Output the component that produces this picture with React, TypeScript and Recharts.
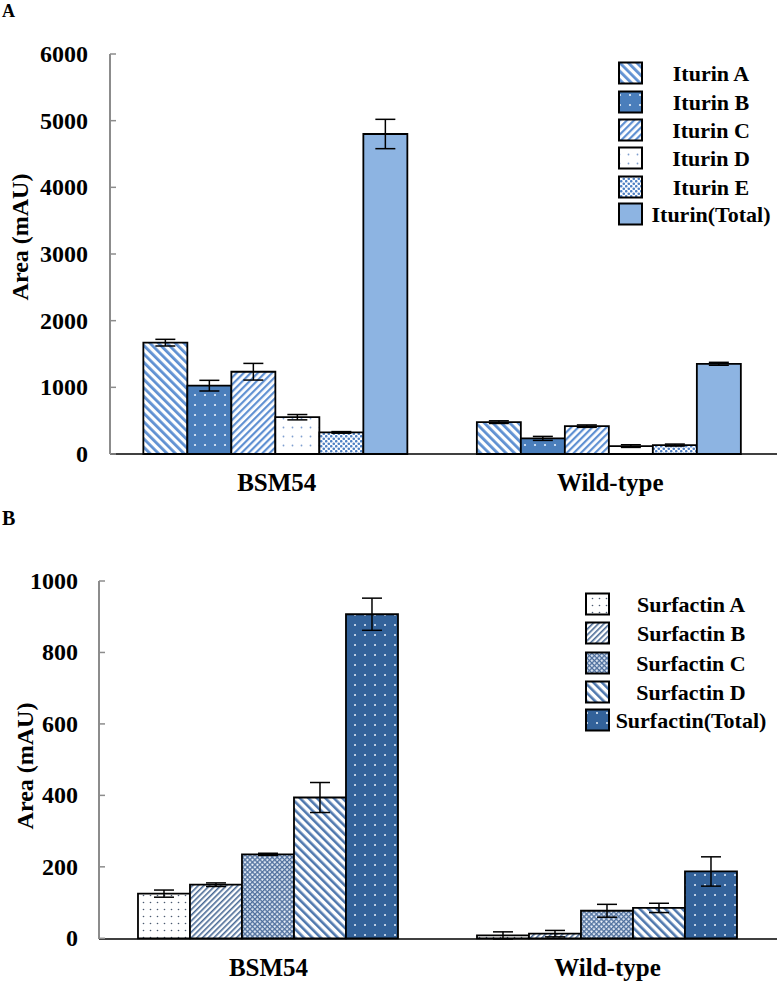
import React from 'react';
import { BarChart, Bar, XAxis, YAxis, ErrorBar, Legend } from 'recharts';

const categories = ['BSM54', 'Wild-type'];

// Panel A: Iturin
const iturinNames = ['Iturin A', 'Iturin B', 'Iturin C', 'Iturin D', 'Iturin E', 'Iturin(Total)'];
const iturinA = [1670, 478];
const iturinB = [1025, 234];
const iturinC = [1234, 418];
const iturinD = [552, 119];
const iturinE = [324, 134];
const iturinTotal = [4800, 1353];
const iturinAErr = [50, 20];
const iturinBErr = [80, 30];
const iturinCErr = [125, 18];
const iturinDErr = [40, 20];
const iturinEErr = [12, 15];
const iturinTotalErr = [220, 22];
const iturinTicks = [0, 1000, 2000, 3000, 4000, 5000, 6000];

// Panel B: Surfactin
const surfactinNames = ['Surfactin A', 'Surfactin B', 'Surfactin C', 'Surfactin D', 'Surfactin(Total)'];
const surfactinA = [125, 8];
const surfactinB = [150, 13];
const surfactinC = [235, 77];
const surfactinD = [394, 85];
const surfactinTotal = [907, 187];
const surfactinAErr = [10, 10];
const surfactinBErr = [5, 9];
const surfactinCErr = [3, 18];
const surfactinDErr = [42, 13];
const surfactinTotalErr = [45, 41];
const surfactinTicks = [0, 200, 400, 600, 800, 1000];

const iturinValues = [iturinA, iturinB, iturinC, iturinD, iturinE, iturinTotal];
const iturinErrors = [iturinAErr, iturinBErr, iturinCErr, iturinDErr, iturinEErr, iturinTotalErr];
const surfactinValues = [surfactinA, surfactinB, surfactinC, surfactinD, surfactinTotal];
const surfactinErrors = [surfactinAErr, surfactinBErr, surfactinCErr, surfactinDErr, surfactinTotalErr];

const buildRows = (vals: number[][], errs: number[][]) =>
  categories.map((name, i) => {
    const row: Record<string, any> = { name };
    vals.forEach((v, k) => {
      row['v' + k] = v[i];
      row['e' + k] = errs[k][i];
    });
    return row;
  });

const iturinData = buildRows(iturinValues, iturinErrors);
const surfactinData = buildRows(surfactinValues, surfactinErrors);

const iturinFills = ['itA', 'itB', 'itC', 'itD', 'itE', 'itT'];
const surfactinFills = ['sfA', 'sfB', 'sfC', 'sfD', 'sfT'];

const FONT = "'Liberation Serif', 'Times New Roman', serif";

const Patterns = () => (
  <svg width={0} height={0} style={{ position: 'absolute' }}>
    <defs>
      <pattern id="itA" width="6" height="6" patternUnits="userSpaceOnUse" patternTransform="rotate(-45)">
        <rect width="6" height="6" fill="#fff" />
        <rect width="2.8" height="6" fill="#5f90d2" />
      </pattern>
      <pattern id="itB" width="10" height="10" patternUnits="userSpaceOnUse">
        <rect width="10" height="10" fill="#4a7ebb" />
        <circle cx="5" cy="5" r="1.1" fill="#e8f0fb" />
      </pattern>
      <pattern id="itC" width="5" height="5" patternUnits="userSpaceOnUse" patternTransform="rotate(45)">
        <rect width="5" height="5" fill="#fff" />
        <rect width="2.2" height="5" fill="#5f90d2" />
      </pattern>
      <pattern id="itD" width="9" height="9" patternUnits="userSpaceOnUse">
        <rect width="9" height="9" fill="#fff" />
        <circle cx="4.5" cy="4.5" r="0.9" fill="#7f9fcf" />
      </pattern>
      <pattern id="itE" width="5" height="5" patternUnits="userSpaceOnUse">
        <rect width="5" height="5" fill="#fff" />
        <circle cx="1.25" cy="1.25" r="1.3" fill="#4f81c4" />
        <circle cx="3.75" cy="3.75" r="1.3" fill="#4f81c4" />
      </pattern>
      <pattern id="itT" width="10" height="10" patternUnits="userSpaceOnUse">
        <rect width="10" height="10" fill="#8db4e2" />
      </pattern>
      <pattern id="sfA" width="7" height="7" patternUnits="userSpaceOnUse">
        <rect width="7" height="7" fill="#fff" />
        <circle cx="3.5" cy="3.5" r="0.8" fill="#4a5a70" />
      </pattern>
      <pattern id="sfB" width="4" height="4" patternUnits="userSpaceOnUse" patternTransform="rotate(45)">
        <rect width="4" height="4" fill="#fff" />
        <rect width="1.6" height="4" fill="#4a6a96" />
      </pattern>
      <pattern id="sfC" width="3.5" height="3.5" patternUnits="userSpaceOnUse" patternTransform="rotate(45)">
        <rect width="3.5" height="3.5" fill="#c9d7ea" />
        <rect width="3.5" height="1.2" fill="#4f6f9c" />
        <rect width="1.2" height="3.5" fill="#4f6f9c" />
        <circle cx="2.35" cy="2.35" r="0.6" fill="#ffffff" />
      </pattern>
      <pattern id="sfD" width="6" height="6" patternUnits="userSpaceOnUse" patternTransform="rotate(-45)">
        <rect width="6" height="6" fill="#fff" />
        <rect width="2.6" height="6" fill="#4f78ae" />
      </pattern>
      <pattern id="sfT" width="10" height="10" patternUnits="userSpaceOnUse">
        <rect width="10" height="10" fill="#33629a" />
        <circle cx="5" cy="5" r="1" fill="#e8f0fb" />
      </pattern>
    </defs>
  </svg>
);

const YTick = (props: any) => {
  const { x, y, payload, gap } = props;
  return (
    <g>
      <line x1={x} x2={x + 6} y1={y} y2={y} stroke="#8c8c8c" strokeWidth={1.5} />
      <text x={x - gap} y={y} dy={8} textAnchor="end" fontFamily={FONT} fontWeight="bold" fontSize={24} fill="#000">
        {payload.value}
      </text>
    </g>
  );
};

const YTitle = (props: any) => {
  const { viewBox, bx, dy } = props;
  const cy = viewBox.y + viewBox.height / 2 + dy;
  return (
    <text
      x={bx}
      y={cy}
      transform={`rotate(-90, ${bx}, ${cy})`}
      textAnchor="middle"
      fontFamily={FONT}
      fontWeight="bold"
      fontSize={24}
      fill="#000"
    >
      Area (mAU)
    </text>
  );
};

const makeLegend = (names: string[], fills: string[], rows: number[], swX: number, textX: number) => () => (
  <svg width={200} height={200} style={{ overflow: 'visible', display: 'block' }}>
    {names.map((n, i) => (
      <g key={n}>
        <rect x={swX} y={rows[i] - 10.5} width={23} height={21} fill={`url(#${fills[i]})`} stroke="#000" strokeWidth={2} />
        <text x={textX} y={rows[i] + 7.5} textAnchor="middle" fontFamily={FONT} fontWeight="bold" fontSize={22} fill="#000">
          {n}
        </text>
      </g>
    ))}
  </svg>
);

const iturinLegend = makeLegend(iturinNames, iturinFills, [13, 42, 70, 98, 127, 154], 4, 96);
const surfactinLegend = makeLegend(surfactinNames, surfactinFills, [16, 45, 75, 104, 132], 4, 109);

const xTick = { fontFamily: FONT, fontWeight: 'bold', fontSize: 25, fill: '#000' };

export default function App() {
  return (
    <div style={{ position: 'absolute', left: 0, top: 0, width: 778, height: 982, background: '#fff', overflow: 'hidden' }}>
      <Patterns />
      <div style={{ position: 'absolute', left: 2, top: 1, fontFamily: FONT, fontWeight: 'bold', fontSize: 18 }}>A</div>
      <div style={{ position: 'absolute', left: 2, top: 507, fontFamily: FONT, fontWeight: 'bold', fontSize: 20 }}>B</div>

      <div style={{ position: 'absolute', left: 0, top: 0 }}>
        <BarChart width={778} height={500} data={iturinData} margin={{ top: 54, right: 1, bottom: 0, left: 0 }} barCategoryGap="10%" barGap={0}>
          <XAxis dataKey="name" height={46} tickLine={false} tickSize={0} tickMargin={19} tick={xTick} axisLine={{ stroke: '#000', strokeWidth: 1.5 }} />
          <XAxis xAxisId="top" orientation="top" dataKey="name" height={0} tick={false} tickLine={false} axisLine={{ stroke: '#000', strokeWidth: 1.5 }} />
          <YAxis
            width={110}
            domain={[0, 6000]}
            ticks={iturinTicks}
            tickLine={false}
            tickSize={0}
            tickMargin={0}
            tick={<YTick gap={22} />}
            axisLine={{ stroke: '#8c8c8c', strokeWidth: 2 }}
            label={<YTitle bx={28} dy={-17} />}
          />
          <YAxis yAxisId="right" orientation="right" width={0} domain={[0, 1]} tick={false} tickLine={false} axisLine={{ stroke: '#000', strokeWidth: 2 }} />
          <Legend layout="vertical" align="center" verticalAlign="middle" content={iturinLegend} wrapperStyle={{ left: 615, top: 60, width: 162, height: 170 }} />
          {iturinNames.map((n, k) => (
            <Bar key={n} name={n} dataKey={'v' + k} fill={`url(#${iturinFills[k]})`} stroke="#000" strokeWidth={1.8} isAnimationActive={false}>
              <ErrorBar dataKey={'e' + k} width={10} stroke="#000" strokeWidth={1.5} />
            </Bar>
          ))}
        </BarChart>
      </div>

      <div style={{ position: 'absolute', left: 0, top: 500 }}>
        <BarChart width={778} height={482} data={surfactinData} margin={{ top: 81, right: 1, bottom: 0, left: 0 }} barCategoryGap="11.5%" barGap={0}>
          <XAxis dataKey="name" height={43} tickLine={false} tickSize={0} tickMargin={19} tick={xTick} axisLine={{ stroke: '#000', strokeWidth: 1.5 }} />
          <XAxis xAxisId="top" orientation="top" dataKey="name" height={0} tick={false} tickLine={false} axisLine={{ stroke: '#000', strokeWidth: 1.5 }} />
          <YAxis
            width={99}
            domain={[0, 1000]}
            ticks={surfactinTicks}
            tickLine={false}
            tickSize={0}
            tickMargin={0}
            tick={<YTick gap={21} />}
            axisLine={{ stroke: '#8c8c8c', strokeWidth: 2 }}
            label={<YTitle bx={33} dy={6} />}
          />
          <YAxis yAxisId="right" orientation="right" width={0} domain={[0, 1]} tick={false} tickLine={false} axisLine={{ stroke: '#000', strokeWidth: 2 }} />
          <Legend layout="vertical" align="center" verticalAlign="middle" content={surfactinLegend} wrapperStyle={{ left: 582, top: 88, width: 195, height: 150 }} />
          {surfactinNames.map((n, k) => (
            <Bar key={n} name={n} dataKey={'v' + k} fill={`url(#${surfactinFills[k]})`} stroke="#000" strokeWidth={1.8} isAnimationActive={false}>
              <ErrorBar dataKey={'e' + k} width={10} stroke="#000" strokeWidth={1.5} />
            </Bar>
          ))}
        </BarChart>
      </div>
    </div>
  );
}
